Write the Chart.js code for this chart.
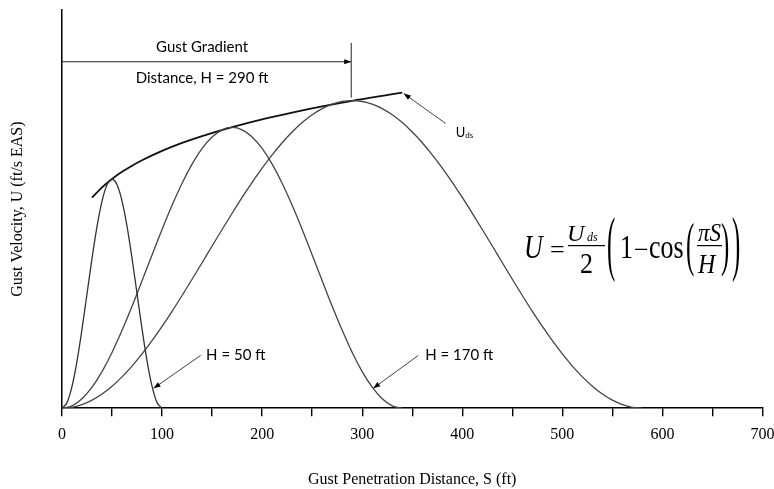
<!DOCTYPE html>
<html>
<head>
<meta charset="utf-8">
<script src="https://cdn.jsdelivr.net/npm/chart.js@4.4.1/dist/chart.umd.min.js"></script>
<style>
  html, body { margin: 0; padding: 0; background: #fff; }
  #wrap { width: 774px; height: 489px; }
</style>
</head>
<body>
<div id="wrap"><canvas id="gust"></canvas></div>
<script>
// gust penetration distance S (ft) and gust velocity U (arbitrary)
const h50S = [0, 5, 10, 15, 20, 25, 30, 35, 40, 45, 50, 55, 60, 65, 70, 75, 80, 85, 90, 95, 100];
const h50U = [0, 5.6, 22, 47.4, 79.5, 115, 150.5, 182.6, 208, 224.4, 230, 224.4, 208, 182.6, 150.5, 115, 79.5, 47.4, 22, 5.6, 0];

const h170S = [0, 10, 20, 30, 40, 50, 60, 70, 80, 90, 100, 110, 120, 130, 140, 150, 160, 170,
    180, 190, 200, 210, 220, 230, 240, 250, 260, 270, 280, 290, 300, 310, 320, 330, 340];
const h170U = [0, 2.4, 9.5, 21.1, 36.8, 56, 78.2, 102.4, 128, 154, 179.6, 203.8, 226, 245.2, 260.9, 272.5, 279.6, 282,
    279.6, 272.5, 260.9, 245.2, 226, 203.8, 179.6, 154, 128, 102.4, 78.2, 56, 36.8, 21.1, 9.5, 2.4, 0];

const h290S = [0, 10, 20, 30, 40, 50, 60, 70, 80, 90, 100, 110, 120, 130, 140, 150, 160, 170, 180, 190,
    200, 210, 220, 230, 240, 250, 260, 270, 280, 290, 300, 310, 320, 330, 340, 350, 360, 370, 380, 390,
    400, 410, 420, 430, 440, 450, 460, 470, 480, 490, 500, 510, 520, 530, 540, 550, 560, 570, 580];
const h290U = [0, 0.9, 3.6, 8.1, 14.3, 22.1, 31.5, 42.3, 54.5, 67.8, 82.1, 97.3, 113.2, 129.5, 146.1, 162.9, 179.5, 195.8, 211.7, 226.9,
    241.2, 254.5, 266.7, 277.5, 286.9, 294.7, 300.9, 305.4, 308.1, 309, 308.1, 305.4, 300.9, 294.7, 286.9, 277.5, 266.7, 254.5, 241.2, 226.9,
    211.7, 195.8, 179.5, 162.9, 146.1, 129.5, 113.2, 97.3, 82.1, 67.8, 54.5, 42.3, 31.5, 22.1, 14.3, 8.1, 3.6, 0.9, 0];

// design gust velocity envelope Uds vs gradient distance
const udsS = [30, 40, 50, 60, 70, 80, 100, 120, 140, 170, 200, 230, 260, 290, 320, 340];
const udsU = [211.5, 221.9, 230.3, 237.4, 243.6, 249.1, 258.5, 266.5, 273.4, 282.4, 290.2, 297, 303.2, 308.8, 313.8, 317];

const xTicks = [0, 100, 200, 300, 400, 500, 600, 700];

const serif = '"Liberation Serif", "Times New Roman", serif';
const sans = 'Lato, "Liberation Sans", sans-serif';

function toPoints(xs, ys) {
    return xs.map((s, i) => ({ x: s, y: ys[i] }));
}

function arrow(ctx, x1, y1, x2, y2) {
    ctx.beginPath();
    ctx.moveTo(x1, y1);
    ctx.lineTo(x2, y2);
    ctx.stroke();
    const a = Math.atan2(y2 - y1, x2 - x1);
    const len = 7, half = 2.6;
    ctx.beginPath();
    ctx.moveTo(x2, y2);
    ctx.lineTo(x2 - len * Math.cos(a) + half * Math.sin(a), y2 - len * Math.sin(a) - half * Math.cos(a));
    ctx.lineTo(x2 - len * Math.cos(a) - half * Math.sin(a), y2 - len * Math.sin(a) + half * Math.cos(a));
    ctx.closePath();
    ctx.fill();
}

// text stretched vertically, like the formula in the source figure
function txt(ctx, str, x, base, font, sy) {
    ctx.save();
    ctx.font = font;
    ctx.translate(x, base);
    ctx.scale(1, sy);
    ctx.fillText(str, 0, 0);
    ctx.restore();
}

function paren(ctx, ch, x, top, bottom) {
    const size = 40;
    const sy = (bottom - top) / (0.871 * size);
    ctx.save();
    ctx.font = size + 'px ' + serif;
    ctx.translate(x, bottom - 0.177 * size * sy);
    ctx.scale(0.62, sy);
    ctx.fillText(ch, 0, 0);
    ctx.restore();
}

const notes = {
    id: 'notes',
    afterDatasetsDraw(chart) {
        const { ctx, scales: { x, y } } = chart;
        const px = v => x.getPixelForValue(v);
        const py = v => y.getPixelForValue(v);
        ctx.save();
        ctx.strokeStyle = '#222';
        ctx.fillStyle = '#000';
        ctx.lineWidth = 1;

        // gust gradient distance marker
        arrow(ctx, px(0), py(348), px(289), py(348));
        ctx.beginPath();
        ctx.moveTo(px(289), py(367));
        ctx.lineTo(px(289), py(312));
        ctx.stroke();

        ctx.strokeStyle = '#444';
        arrow(ctx, px(383.5), py(286), px(341.5), py(316));
        arrow(ctx, px(138.5), py(53), px(91.5), py(20));
        arrow(ctx, px(356), py(53), px(311), py(20));

        ctx.textBaseline = 'middle';
        ctx.textAlign = 'center';
        ctx.font = '15px ' + sans;
        ctx.fillText('Gust Gradient', px(140), py(363));
        ctx.fillText('Distance, H = 290 ft', px(140), py(332));

        ctx.textAlign = 'left';
        ctx.fillText('H = 50 ft', px(144), py(53));
        ctx.fillText('H = 170 ft', px(363), py(53));

        ctx.font = '13px ' + sans;
        ctx.fillText('U', px(393.5), py(277));
        const uw = ctx.measureText('U').width;
        ctx.font = '8px ' + sans;
        ctx.fillText('ds', px(393.5) + uw, py(274));

        // formula U = Uds/2 (1 - cos(pi S / H))
        ctx.textBaseline = 'alphabetic';
        txt(ctx, 'U', 524, 258, 'italic 26px ' + serif, 1.28);
        txt(ctx, '=', 550, 258, '26px ' + serif, 1);
        ctx.fillRect(568, 245, 37, 1.2);
        txt(ctx, 'U', 567, 241, 'italic 24px ' + serif, 1);
        txt(ctx, 'ds', 587, 241, 'italic 12px ' + serif, 1);
        txt(ctx, '2', 580, 273, '26px ' + serif, 1.15);
        paren(ctx, '(', 607, 218, 280);
        txt(ctx, '1', 620, 258, '26px ' + serif, 1.28);
        txt(ctx, '\u2212', 634, 258, '26px ' + serif, 1);
        txt(ctx, 'cos', 649, 258, '26px ' + serif, 1.3);
        paren(ctx, '(', 686, 223, 275);
        txt(ctx, '\u03c0S', 698, 241, 'italic 23px ' + serif, 1.05);
        ctx.fillRect(697, 245, 25, 1.2);
        txt(ctx, 'H', 698, 273, 'italic 24px ' + serif, 1.1);
        paren(ctx, ')', 721, 223, 275);
        paren(ctx, ')', 732, 218, 280);
        ctx.restore();
    }
};

function curve(label, xs, ys, color, width) {
    return {
        label: label,
        data: toPoints(xs, ys),
        borderColor: color,
        borderWidth: width,
        pointRadius: 0,
        fill: false,
        cubicInterpolationMode: 'monotone'
    };
}

new Chart(document.getElementById('gust'), {
    type: 'line',
    data: {
        datasets: [
            curve('H = 50 ft', h50S, h50U, '#333', 1.3),
            curve('H = 170 ft', h170S, h170U, '#444', 1.3),
            curve('H = 290 ft', h290S, h290U, '#444', 1.3),
            curve('Uds', udsS, udsU, '#111', 1.8)
        ]
    },
    options: {
        responsive: true,
        maintainAspectRatio: false,
        animation: false,
        events: [],
        layout: { padding: { left: 8, right: 11.5, top: 10, bottom: 0 } },
        plugins: {
            legend: { display: false },
            tooltip: { enabled: false }
        },
        scales: {
            x: {
                type: 'linear',
                min: 0,
                max: 700,
                afterFit(scale) { scale.paddingLeft = 0; scale.paddingRight = 0; },
                afterBuildTicks(scale) {
                    const t = [];
                    for (let v = 0; v <= 700; v += 50) t.push({ value: v });
                    scale.ticks = t;
                },
                ticks: {
                    autoSkip: false,
                    maxRotation: 0,
                    padding: 9,
                    color: '#000',
                    font: { family: serif, size: 16 },
                    callback: v => xTicks.includes(v) ? String(v) : ''
                },
                grid: { drawOnChartArea: false, drawTicks: true, tickLength: 8, color: '#000', lineWidth: 1.4 },
                border: { display: true, color: '#000', width: 1.5 },
                title: {
                    display: true,
                    text: 'Gust Penetration Distance, S (ft)',
                    color: '#000',
                    font: { family: serif, size: 16 },
                    padding: { top: 16.4, bottom: 0 }
                }
            },
            y: {
                type: 'linear',
                min: 0,
                max: 400,
                ticks: { display: false },
                grid: { display: false },
                border: { display: true, color: '#000', width: 1.5 },
                title: {
                    display: true,
                    text: 'Gust Velocity, U (ft/s EAS)',
                    color: '#000',
                    font: { family: serif, size: 16 },
                    padding: { top: 0, bottom: 26.8 }
                }
            }
        }
    },
    plugins: [notes]
});
</script>
</body>
</html>
